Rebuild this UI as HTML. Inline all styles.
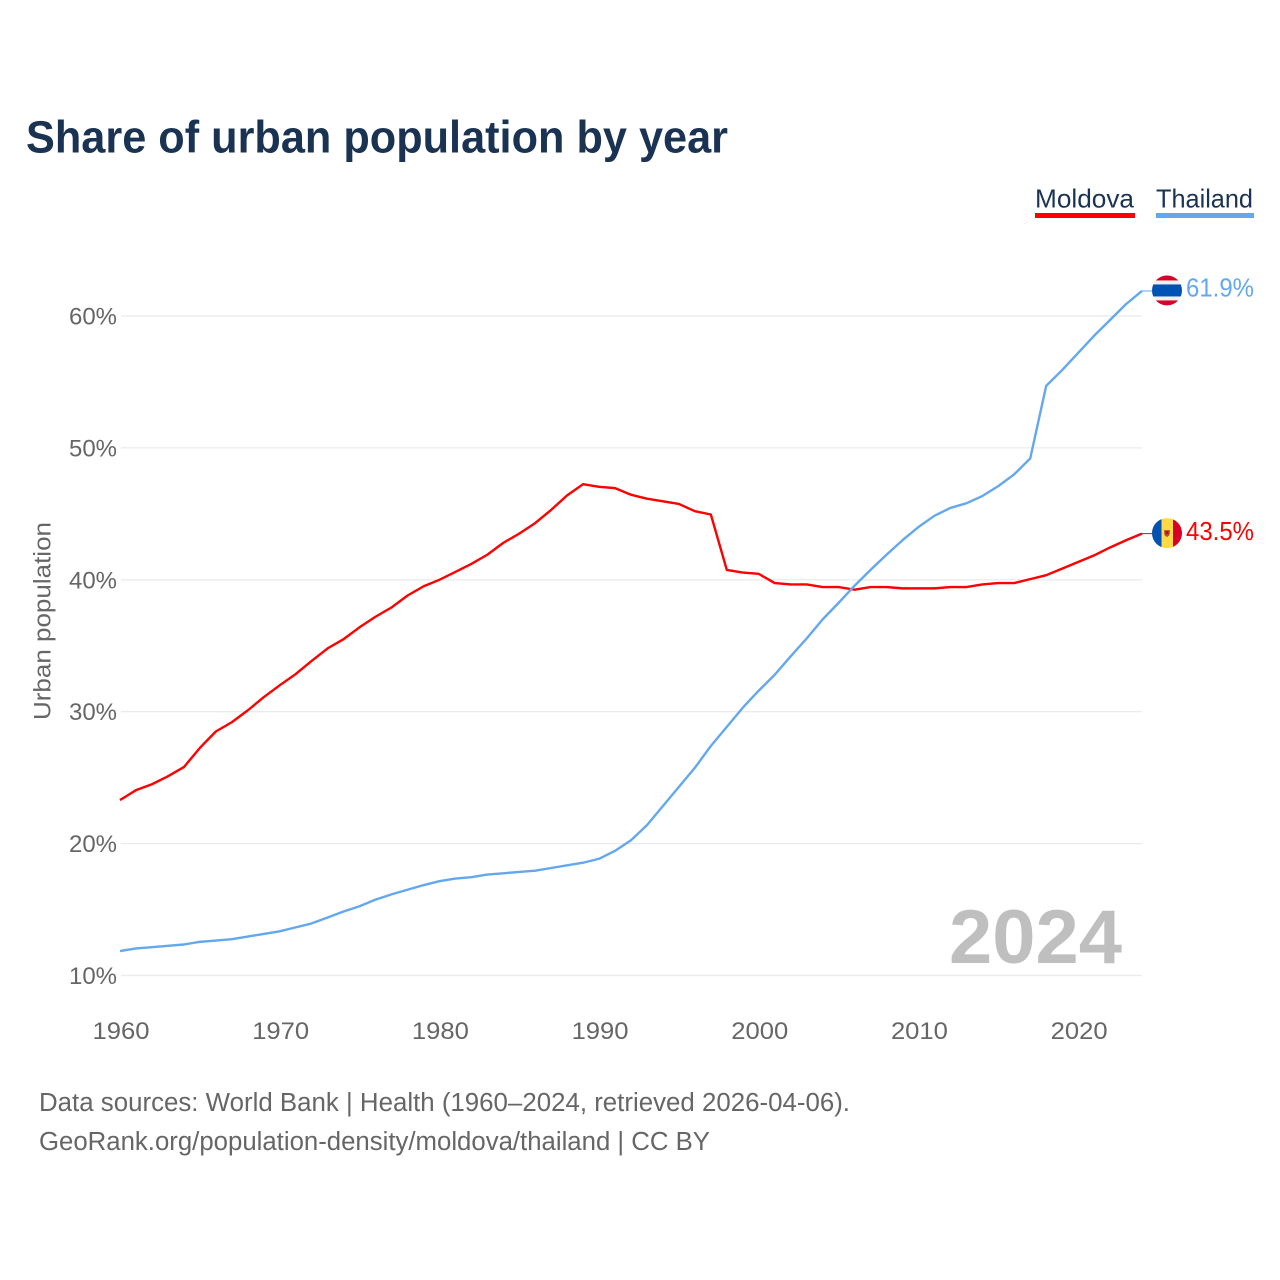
<!DOCTYPE html>
<html lang="en">
<head>
<meta charset="utf-8">
<title>Share of urban population by year</title>
<style>
html,body{margin:0;padding:0;background:#fff;}
svg{display:block;font-family:"Liberation Sans",sans-serif;}
</style>
</head>
<body>
<svg id="chart" width="1280" height="1280" viewBox="0 0 1280 1280" xmlns="http://www.w3.org/2000/svg">
  <defs>
    <clipPath id="flag-clip-th"><circle cx="0" cy="0" r="15"/></clipPath>
    <clipPath id="flag-clip-md"><circle cx="0" cy="0" r="15"/></clipPath>
  </defs>
  <text x="26" y="152.5" font-size="45" font-weight="700" fill="#1a3353" textLength="702" lengthAdjust="spacingAndGlyphs">Share of urban population by year</text>

  <text x="1035" y="207.5" font-size="26" fill="#1a3353" textLength="99" lengthAdjust="spacingAndGlyphs">Moldova</text>
  <rect x="1035" y="213" width="100" height="5" fill="#ff0000"/>
  <text x="1156" y="207.5" font-size="26" fill="#1a3353" textLength="97" lengthAdjust="spacingAndGlyphs">Thailand</text>
  <rect x="1156" y="213" width="98" height="5" fill="#63a8ee"/>

  <g id="grid"></g>
  <g id="y-ticks"></g>
  <g id="x-ticks"></g>

  <text transform="translate(50.5,621) rotate(-90)" text-anchor="middle" font-size="24" fill="#666666" textLength="198" lengthAdjust="spacingAndGlyphs">Urban population</text>

  <text x="1122" y="963" text-anchor="end" font-size="76" font-weight="700" fill="#bfbfbf" textLength="173" lengthAdjust="spacingAndGlyphs">2024</text>

  <g id="series"></g>

  <g id="flag-th">
    <g clip-path="url(#flag-clip-th)">
      <rect x="-15" y="-15" width="30" height="30" fill="#f0f0f0"/>
      <rect x="-15" y="-15" width="30" height="5" fill="#d80027"/>
      <rect x="-15" y="10" width="30" height="5" fill="#d80027"/>
      <rect x="-15" y="-6" width="30" height="12" fill="#0052b4"/>
    </g>
  </g>
  <g id="flag-md">
    <g clip-path="url(#flag-clip-md)">
      <rect x="-15" y="-15" width="30" height="30" fill="#ffda44"/>
      <rect x="-15" y="-15" width="9.5" height="30" fill="#0052b4"/>
      <rect x="6" y="-15" width="9" height="30" fill="#d80027"/>
      <path d="M-3,-3 L3,-3 L2.5,2 L0,4 L-2.5,2 Z" fill="#a2583a"/>
      <rect x="-1.5" y="-2" width="3" height="3" fill="#d80027"/>
    </g>
  </g>

  <text id="label-th" x="1186" font-size="26" fill="#63a8ee" textLength="68" lengthAdjust="spacingAndGlyphs"></text>
  <text id="label-md" x="1186" font-size="26" fill="#ff0000" textLength="68" lengthAdjust="spacingAndGlyphs"></text>

  <text x="39" y="1111" font-size="25.5" fill="#666666" textLength="811" lengthAdjust="spacingAndGlyphs">Data sources: World Bank | Health (1960–2024, retrieved 2026-04-06).</text>
  <text x="39" y="1150" font-size="25.5" fill="#666666" textLength="671" lengthAdjust="spacingAndGlyphs">GeoRank.org/population-density/moldova/thailand | CC BY</text>
</svg>
<script>
const startYear = 1960;
const moldova = [23.3,24.05,24.5,25.1,25.8,27.25,28.5,29.2,30.1,31.1,32.0,32.85,33.85,34.8,35.5,36.4,37.2,37.9,38.8,39.5,40.0,40.6,41.2,41.9,42.8,43.5,44.3,45.3,46.4,47.25,47.05,46.95,46.45,46.15,45.95,45.75,45.2,44.95,40.75,40.55,40.45,39.75,39.65,39.65,39.45,39.45,39.25,39.45,39.45,39.35,39.35,39.35,39.45,39.45,39.65,39.75,39.75,40.05,40.35,40.85,41.35,41.85,42.45,43.0,43.5];
const thailand = [11.85,12.05,12.15,12.25,12.35,12.55,12.65,12.75,12.95,13.15,13.35,13.65,13.95,14.4,14.85,15.25,15.75,16.15,16.5,16.85,17.15,17.35,17.45,17.65,17.75,17.85,17.95,18.15,18.35,18.55,18.85,19.45,20.25,21.4,22.85,24.3,25.75,27.4,28.85,30.3,31.6,32.8,34.2,35.55,37.0,38.25,39.55,40.75,41.9,43.0,44.0,44.85,45.45,45.8,46.35,47.1,48.0,49.2,54.7,55.9,57.2,58.5,59.7,60.9,61.9];
const yTickValues = [10,20,30,40,50,60];
const xTickYears = [1960,1970,1980,1990,2000,2010,2020];

const NS = 'http://www.w3.org/2000/svg';
function xScale(year){ return 120 + (year - 1960) * (1142 - 120) / 64; }
function yScale(v){ return 975.5 - (v - 10) * (975.5 - 316) / 50; }
function make(tag, attrs, parent){
  const el = document.createElementNS(NS, tag);
  for (const k in attrs) el.setAttribute(k, attrs[k]);
  parent.appendChild(el);
  return el;
}
const gridG = document.getElementById('grid');
const yG = document.getElementById('y-ticks');
const xG = document.getElementById('x-ticks');
const seriesG = document.getElementById('series');

yTickValues.forEach(function(v){
  const line = make('line', {x1:121, x2:1142, y1:yScale(v), y2:yScale(v), stroke:'#ebebeb', 'stroke-width':1.3}, gridG);
  
  
  const t = make('text', {x:117, y:yScale(v)+8.5, 'text-anchor':'end', 'font-size':24.5, fill:'#666666', textLength:48, lengthAdjust:'spacingAndGlyphs'}, yG);
  
  
  t.textContent = v + '%';
});
xTickYears.forEach(function(y){
  const t = make('text', {x:xScale(y)+1, y:1039, 'text-anchor':'middle', 'font-size':24.5, fill:'#666666', textLength:57, lengthAdjust:'spacingAndGlyphs'}, xG);
  
  
  t.textContent = y;
});
function drawSeries(values, color, name){
  const d = values.map(function(v, i){
    return (i ? 'L' : 'M') + xScale(startYear + i).toFixed(2) + ',' + yScale(v).toFixed(2);
  }).join(' ');
  const p = make('path', {d:d, fill:'none', stroke:color, 'stroke-width':2.4, 'stroke-linejoin':'round'}, seriesG);
  
  
  const last = values[values.length - 1];
  const lastX = xScale(startYear + values.length - 1);
  const stub = make('line', {x1:lastX, x2:lastX + 10, y1:yScale(last), y2:yScale(last), stroke:color, 'stroke-width':1}, seriesG);
  
  
}
drawSeries(moldova, '#ff0000', 'moldova-line');
drawSeries(thailand, '#63a8ee', 'thailand-line');

const lastTh = thailand[thailand.length - 1];
const lastMd = moldova[moldova.length - 1];
document.getElementById('flag-th').setAttribute('transform', 'translate(1167,' + (yScale(lastTh) - 0.5) + ')');
document.getElementById('flag-md').setAttribute('transform', 'translate(1167,' + (yScale(lastMd) - 0.5) + ')');
const labelTh = document.getElementById('label-th');
labelTh.setAttribute('y', yScale(lastTh) + 5.7);
labelTh.textContent = lastTh.toFixed(1) + '%';
const labelMd = document.getElementById('label-md');
labelMd.setAttribute('y', yScale(lastMd) + 6.2);
labelMd.textContent = lastMd.toFixed(1) + '%';
</script>
</body>
</html>
